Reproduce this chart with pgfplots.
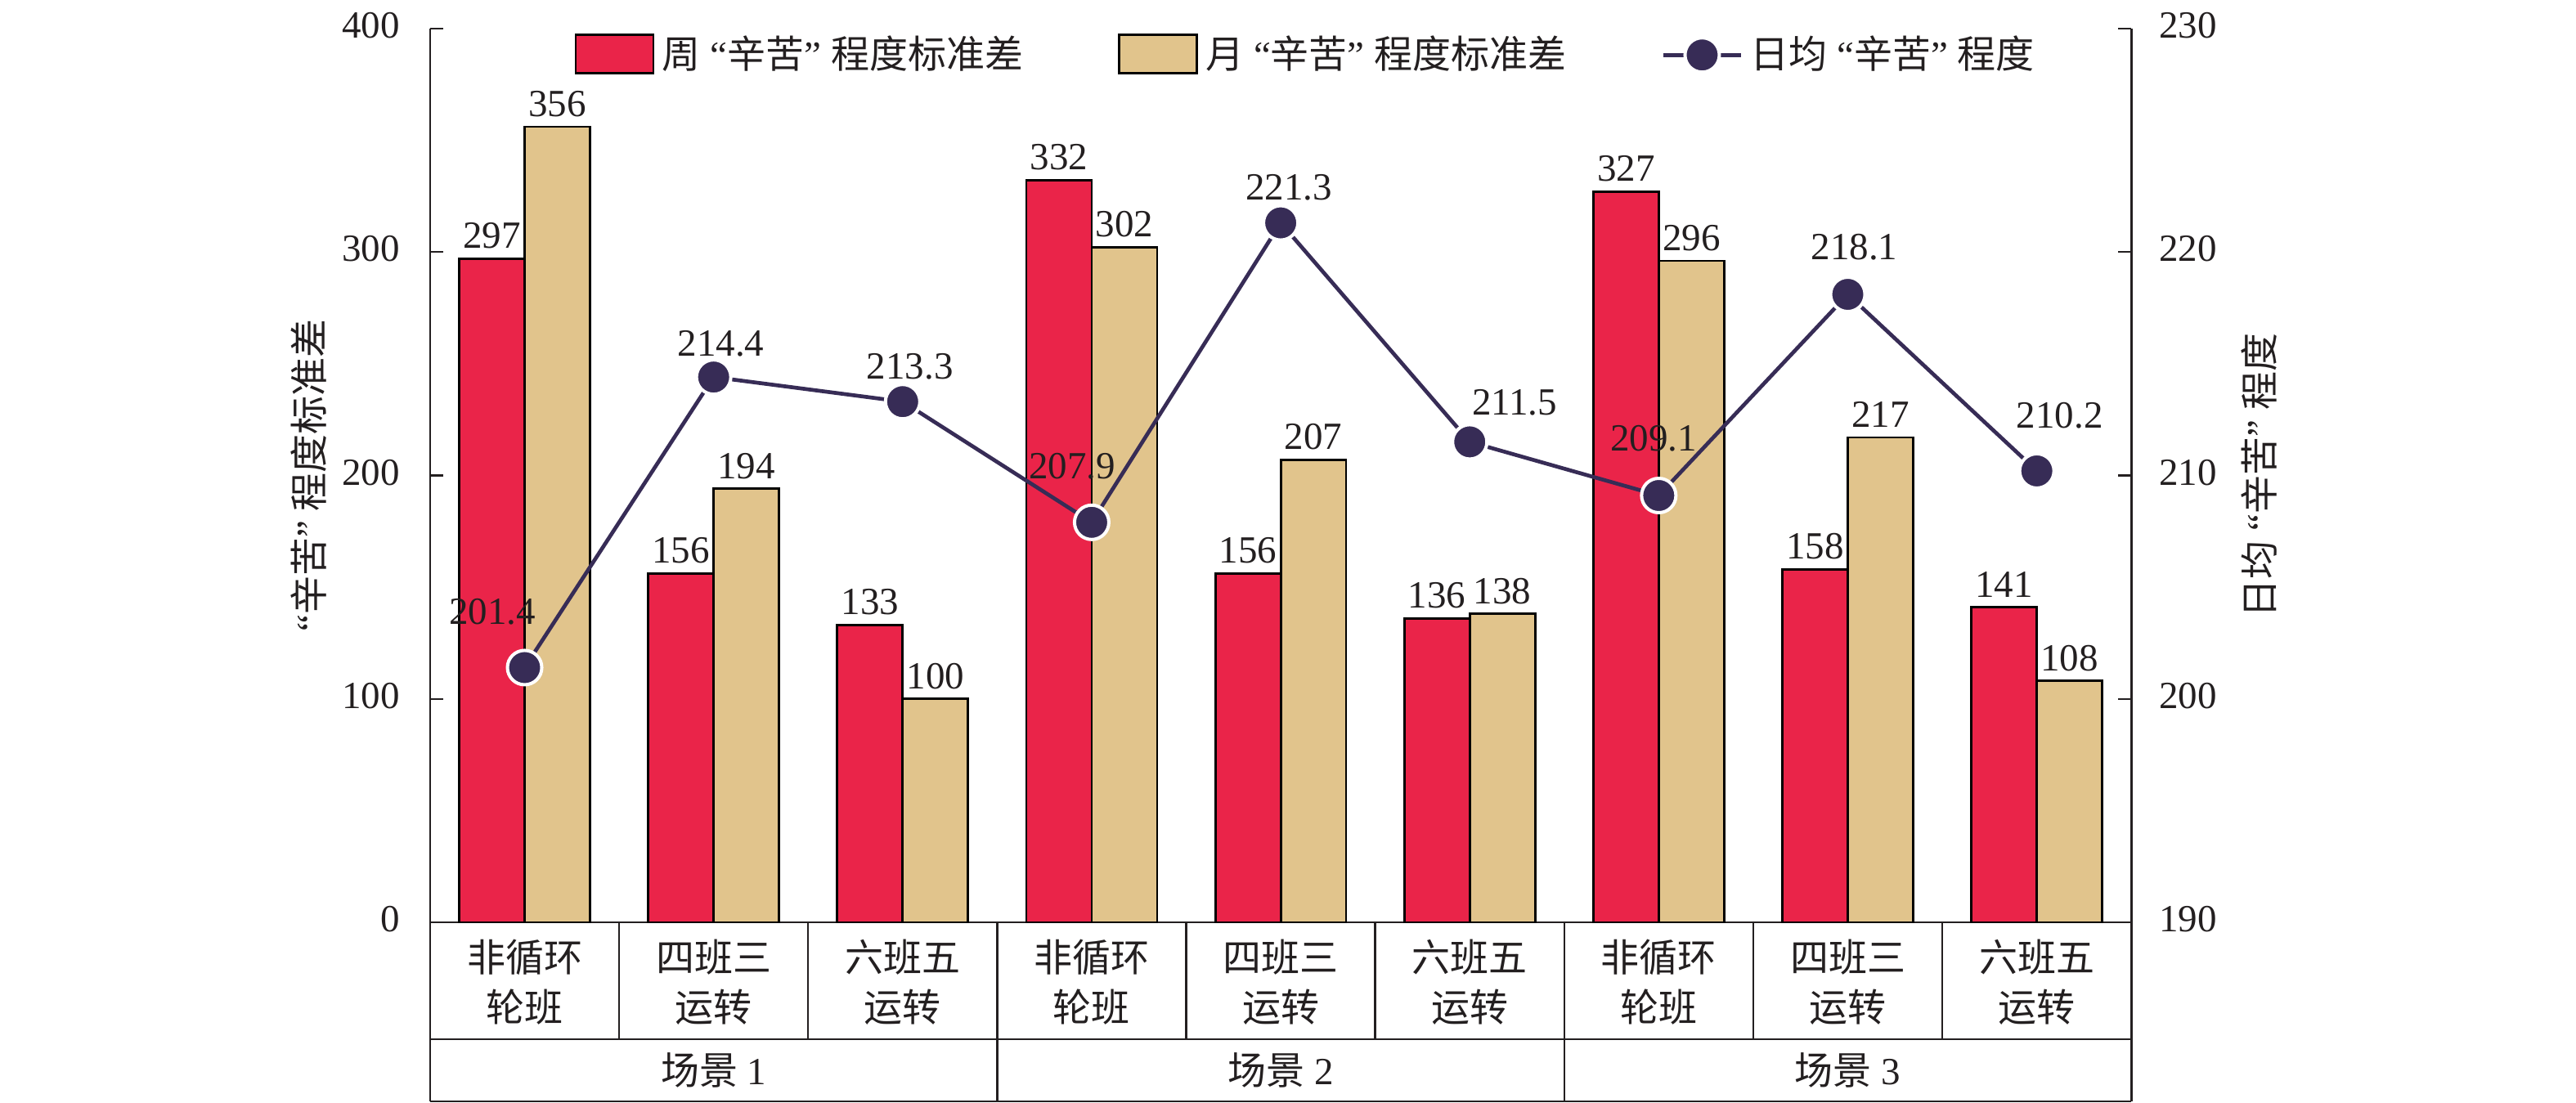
\documentclass[border=0pt]{standalone}
\usepackage{fontspec}
\setmainfont{Liberation Serif}
\newfontfamily\cjk{Noto Sans CJK SC}
\usepackage{pgfplots}
\pgfplotsset{compat=1.18}
\usetikzlibrary{calc}
\definecolor{barred}{HTML}{EA2449}
\definecolor{bartan}{HTML}{E1C48C}
\definecolor{linenavy}{HTML}{372C56}
\definecolor{txt}{HTML}{231F20}
\newcommand{\zh}[1]{{\cjk #1}}
\pgfplotsset{
  barlegend/.style={legend image code/.code={\draw[##1] (0pt,-4.7pt) rectangle (20.2pt,5.3pt);}},
  linelegend/.style={legend image code/.code={\draw[##1,mark=none] (0pt,0pt) -- (20.2pt,0pt); \draw[##1,sharp plot] plot coordinates {(10.1pt,0pt)};}},
}
\begin{document}
\color{txt}
\begin{tikzpicture}
\begin{axis}[
  width=442.6pt, height=232.6pt, scale only axis,
  xmin=-0.5, xmax=8.5, ymin=0, ymax=400,
  ybar=0pt, bar width=0.346,
  axis x line*=bottom, axis y line*=left,
  axis line style={-, line width=0.6pt, color=txt},
  xtick={0,...,8},
  xticklabels={{非循环\\轮班},{四班三\\运转},{六班五\\运转},{非循环\\轮班},{四班三\\运转},{六班五\\运转},{非循环\\轮班},{四班三\\运转},{六班五\\运转}},
  xtick style={draw=none},
  xticklabel style={anchor=center, yshift=-15.6pt, align=center, font={\fontsize{10pt}{13pt}\selectfont\cjk}, text=txt},
  ytick={0,100,...,400},
  ytick style={line width=0.5pt, color=txt},
  major tick length=3.4pt, tick align=inside,
  yticklabel style={xshift=-4.4pt, yshift=0.8pt, text=txt},
  /pgf/number format/assume math mode=true,
  nodes near coords,
  nodes near coords style={anchor=south, inner sep=0pt, yshift=2.3pt, text=txt},
  legend columns=3,
  legend cell align=left,
  legend style={draw=none, fill=none, inner sep=0pt, at={(rel axis cs:0.0845,1)}, anchor=west, yshift=-6.9pt,
    /tikz/every even column/.append style={column sep=22.7pt}},
]
\addplot[fill=barred, draw=black, line width=0.6pt, barlegend]
  coordinates {(0,297) (1,156) (2,133) (3,332) (4,156) (5,136) (6,327) (7,158) (8,141)};
\addlegendentry{\zh{周} “\zh{辛苦}” \zh{程度标准差}}
\addplot[fill=bartan, draw=black, line width=0.6pt, barlegend]
  coordinates {(0,356) (1,194) (2,100) (3,302) (4,207) (5,138) (6,296) (7,217) (8,108)};
\addlegendentry{\zh{月} “\zh{辛苦}” \zh{程度标准差}}
\addlegendimage{linenavy, line width=1pt, mark=*, mark size=4.47pt, mark options={fill=linenavy, draw=white, line width=0.85pt}, linelegend}
\addlegendentry{\zh{日均} “\zh{辛苦}” \zh{程度}}
\coordinate (LL) at (rel axis cs:0,0);
\coordinate (LR) at (rel axis cs:1,0);
\coordinate (UL) at (rel axis cs:0,1);
\coordinate (UR) at (rel axis cs:1,1);
\end{axis}
\begin{axis}[
  width=442.6pt, height=232.6pt, scale only axis,
  xmin=-0.5, xmax=8.5, ymin=190, ymax=230,
  axis x line=none, axis y line*=right,
  axis line style={-, line width=0.6pt, color=txt},
  ytick={190,200,...,230},
  ytick style={line width=0.5pt, color=txt},
  major tick length=3.4pt, tick align=inside,
  yticklabel style={xshift=3.7pt, yshift=0.8pt, text=txt},
  /pgf/number format/assume math mode=true,
]
\addplot[linenavy, line width=1pt, mark=*, mark size=4.47pt,
  mark options={fill=linenavy, draw=white, line width=0.85pt},
  nodes near coords,
  visualization depends on={value \thisrow{dx}\as\dx},
  visualization depends on={value \thisrow{dy}\as\dy},
  nodes near coords style={anchor=base, inner sep=0pt, xshift=\dx pt, yshift=\dy pt, text=txt},
  /pgf/number format/.cd, fixed, fixed zerofill, precision=1]
  table[x=x, y=y] {
x y dx dy
0 201.4 -8.4 11.3
1 214.4 1.9 5.5
2 213.3 1.9 6.0
3 207.9 -5.1 11.3
4 221.3 2.1 6.0
5 211.5 11.7 7.0
6 209.1 -1.3 11.7
7 218.1 1.7 9.1
8 210.2 6.0 11.1
};
\end{axis}
\begin{scope}[line width=0.6pt, draw=txt]
\foreach \k in {1,...,8} \draw[line width=0.5pt] ($(LL)!{\k/9}!(LR)$) -- ++(0pt,-30.4pt);
\draw ($(LL)+(0pt,-30.4pt)$) -- ($(LR)+(0pt,-30.4pt)$);
\foreach \k in {3,6} \draw[line width=0.5pt] ($(LL)!{\k/9}!(LR)+(0pt,-30.4pt)$) -- ++(0pt,-16.2pt);
\draw ($(LL)+(0pt,-46.6pt)$) -- ($(LR)+(0pt,-46.6pt)$);
\draw (LL) -- ++(0pt,-46.6pt);
\draw (LR) -- ++(0pt,-46.6pt);
\end{scope}
\node at ($(LL)!{1.5/9}!(LR)+(0pt,-38.5pt)$) {\zh{场景} 1};
\node at ($(LL)!{4.5/9}!(LR)+(0pt,-38.5pt)$) {\zh{场景} 2};
\node at ($(LL)!{7.5/9}!(LR)+(0pt,-38.5pt)$) {\zh{场景} 3};
\node[rotate=90] at ($(LL)!0.5!(UL)+(-31.5pt,0pt)$) {“\zh{辛苦}” \zh{程度标准差}};
\node[rotate=90] at ($(LR)!0.5!(UR)+(33.3pt,0pt)$) {\zh{日均} “\zh{辛苦}” \zh{程度}};
\pgfresetboundingbox
\path[use as bounding box] ($(LL)+(-111.9pt,-47.0pt)$) rectangle ($(UR)+(115.7pt,7.4pt)$);
\end{tikzpicture}
\end{document}
